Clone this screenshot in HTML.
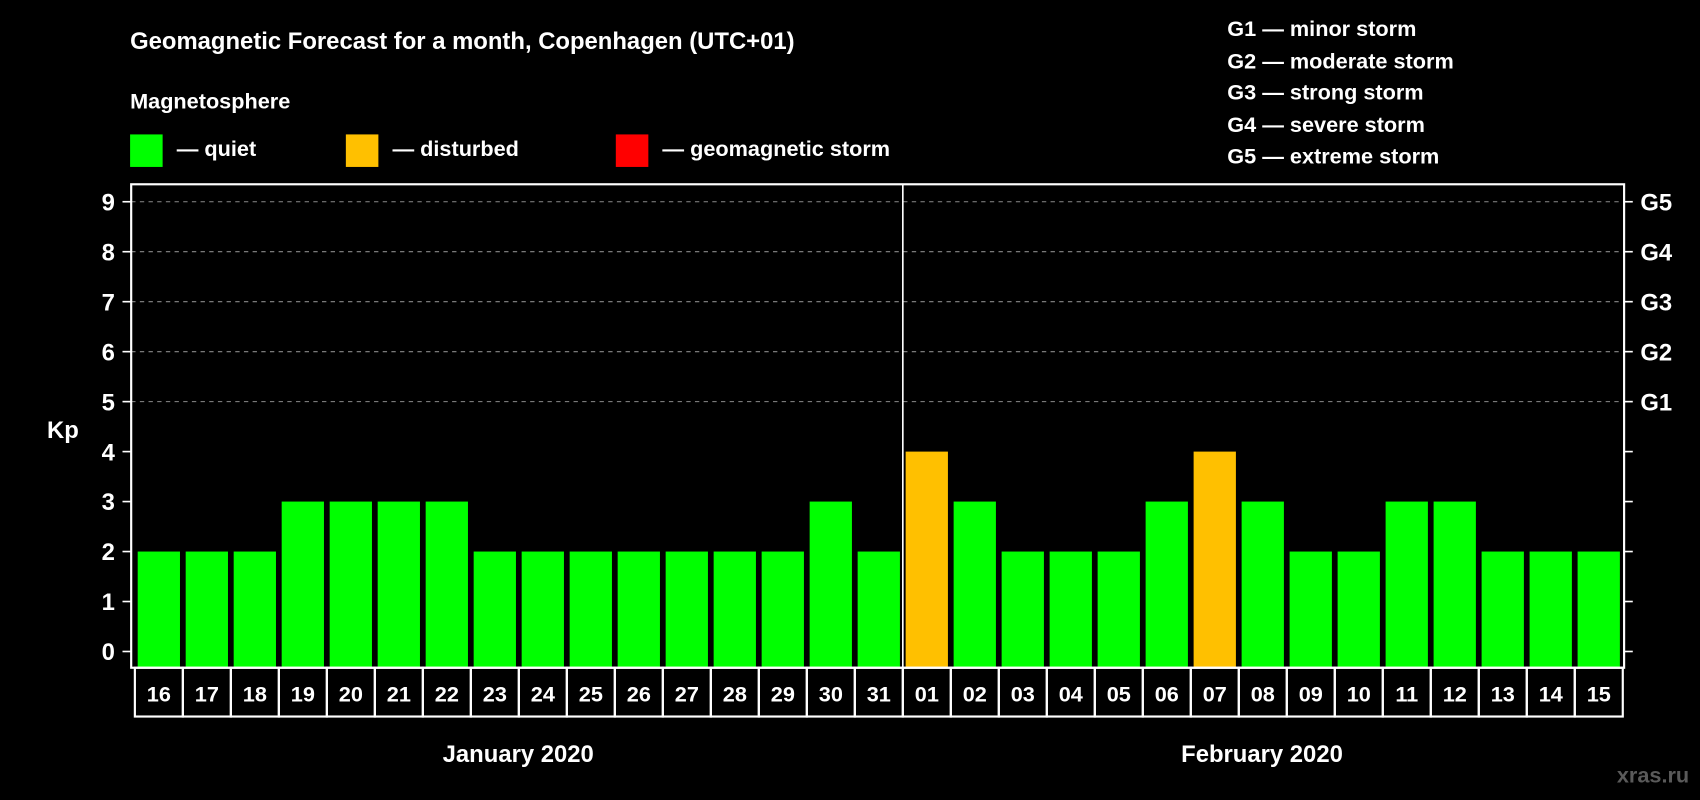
<!DOCTYPE html>
<html><head><meta charset="utf-8"><style>
html,body{margin:0;padding:0;background:#000;}
svg{display:block}
text{font-family:"Liberation Sans",sans-serif;font-weight:bold;fill:#fff}
</style></head><body>
<svg id="chart" width="1700" height="800" viewBox="0 0 1568 738" preserveAspectRatio="none" xmlns="http://www.w3.org/2000/svg">
<rect x="0" y="0" width="1568" height="738" fill="#000"/>
<text x="120" y="45" font-size="22">Geomagnetic Forecast for a month, Copenhagen (UTC+01)</text>
<text x="120" y="100" font-size="20">Magnetosphere</text>
<g><rect x="120" y="124" width="30" height="30" fill="#00ff00"/><text x="163" y="144" font-size="20">— quiet</text></g>
<g><rect x="319" y="124" width="30" height="30" fill="#ffc000"/><text x="362" y="144" font-size="20">— disturbed</text></g>
<g><rect x="568" y="124" width="30" height="30" fill="#ff0000"/><text x="611" y="144" font-size="20">— geomagnetic storm</text></g>
<g font-size="20">
<text x="1132" y="33">G1 — minor storm</text>
<text x="1132" y="63">G2 — moderate storm</text>
<text x="1132" y="92">G3 — strong storm</text>
<text x="1132" y="122">G4 — severe storm</text>
<text x="1132" y="151">G5 — extreme storm</text>
</g>
<text x="58" y="404" font-size="22" text-anchor="middle">Kp</text>
<g id="grid"></g><g id="bars"></g><g id="axes"></g>
<text x="478" y="703" font-size="22" text-anchor="middle">January 2020</text>
<text x="1164" y="703" font-size="22" text-anchor="middle">February 2020</text>
<text x="1558" y="722" font-size="20" text-anchor="end" fill="#555" style="fill:#5a5a5a">xras.ru</text>
</svg>
<script>
const days=["16","17","18","19","20","21","22","23","24","25","26","27","28","29","30","31","01","02","03","04","05","06","07","08","09","10","11","12","13","14","15"];
const kp=[2,2,2,3,3,3,3,2,2,2,2,2,2,2,3,2,4,3,2,2,2,3,4,3,2,2,3,3,2,2,2];
const yTicks=[0,1,2,3,4,5,6,7,8,9];
const gLabels=["G1","G2","G3","G4","G5"];
const gLevels=[5,6,7,8,9];
const NS="http://www.w3.org/2000/svg";
const L=121,R=1498,T=170,B=616,x0=124.4,step=44.27;
function y(v){return 601-v*46.1;}
function xs(i){return x0+i*step;}
function mk(tag,attrs,parent,txt){const e=document.createElementNS(NS,tag);for(const k in attrs)e.setAttribute(k,attrs[k]);if(txt!==undefined)e.textContent=txt;parent.appendChild(e);return e;}
function color(v){return v>=5?"#ff0000":(v>=4?"#ffc000":"#00ff00");}
const grid=document.getElementById('grid'),bars=document.getElementById('bars'),axes=document.getElementById('axes');
gLevels.forEach(v=>{const l=mk('line',{x1:L,x2:R,y1:y(v),y2:y(v),stroke:'#8a8a8a','stroke-width':1,'stroke-dasharray':'4,4'},grid);

});
kp.forEach((v,i)=>{const r=mk('rect',{x:xs(i)+2.6,y:y(v),width:39,height:B-y(v),fill:color(v)},bars);

});
const fr=mk('rect',{x:L,y:T,width:R-L,height:B-T,fill:'none',stroke:'#fff','stroke-width':2},axes);


const sep=mk('line',{x1:xs(16),x2:xs(16),y1:T,y2:B,stroke:'#fff','stroke-width':1.5},axes);


yTicks.forEach(v=>{mk('line',{x1:L-8,x2:L,y1:y(v),y2:y(v),stroke:'#fff','stroke-width':1.5},axes);
mk('line',{x1:R,x2:R+8,y1:y(v),y2:y(v),stroke:'#fff','stroke-width':1.5},axes);
const t=mk('text',{x:106,y:y(v)+8,'font-size':22,'text-anchor':'end'},axes,String(v));

});
gLevels.forEach((v,i)=>{const t=mk('text',{x:1513,y:y(v)+8,'font-size':22},axes,gLabels[i]);

});
days.forEach((d,i)=>{const b=mk('rect',{x:xs(i),y:B,width:step,height:45,fill:'none',stroke:'#fff','stroke-width':2},axes);


const t=mk('text',{x:xs(i)+step/2,y:647,'font-size':20,'text-anchor':'middle'},axes,d);

});
</script>
</body></html>
